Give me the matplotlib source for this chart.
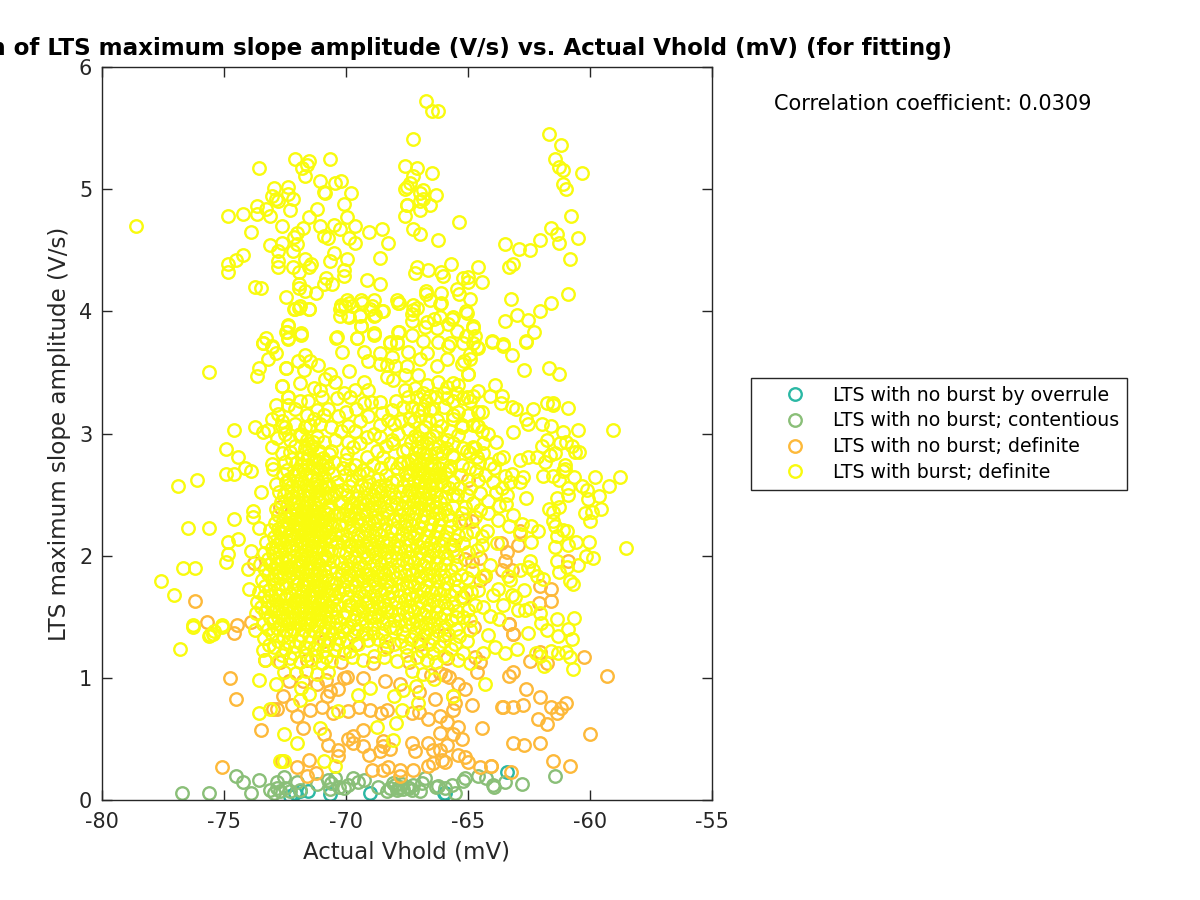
import matplotlib
matplotlib.use("Agg")
import matplotlib.pyplot as plt
import numpy as np

x_ticks = [-80, -75, -70, -65, -60, -55]
y_ticks = [0, 1, 2, 3, 4, 5, 6]

legend_labels = [
    "LTS with no burst by overrule",
    "LTS with no burst; contentious",
    "LTS with no burst; definite",
    "LTS with burst; definite",
]
colours = ["#2bb8a4", "#8abf78", "#fdb93a", "#f9fb0e"]

overrule = [
    (-72.3, 0.03), (-71.9, 0.07), (-71.55, 0.07), (-70.65, 0.05), (-69.0, 0.06),
    (-65.95, 0.055), (-63.42, 0.23), (-66.0, 0.06), (-72.1, 0.06),
]

contentious = [
    (-76.72, 0.06), (-75.61, 0.06), (-74.5, 0.2), (-74.23, 0.145), (-73.89, 0.06), (-73.55, 0.16),
    (-73.1, 0.08), (-72.97, 0.06), (-72.84, 0.1), (-72.7, 0.07), (-72.53, 0.19), (-72.84, 0.15),
    (-72.5, 0.1), (-72.3, 0.07), (-72.02, 0.15), (-71.9, 0.08), (-71.2, 0.13), (-70.65, 0.09),
    (-70.45, 0.18), (-70.3, 0.11), (-70.1, 0.1), (-69.9, 0.12), (-69.7, 0.18), (-69.26, 0.16),
    (-68.67, 0.11), (-68.2, 0.1), (-68.06, 0.14), (-67.92, 0.08), (-67.79, 0.11), (-67.5, 0.11),
    (-67.24, 0.12), (-66.97, 0.07), (-66.9, 0.14), (-66.77, 0.18), (-67.65, 0.09), (-67.4, 0.1),
    (-68.0, 0.12), (-67.85, 0.1), (-67.7, 0.13), (-66.22, 0.115), (-65.95, 0.095), (-65.67, 0.12),
    (-65.54, 0.06), (-65.2, 0.155), (-65.13, 0.18), (-64.6, 0.2), (-64.27, 0.18), (-63.99, 0.12),
    (-63.95, 0.11), (-63.49, 0.145), (-62.8, 0.13), (-61.44, 0.195), (-66.3, 0.11), (-68.3, 0.07),
    (-67.3, 0.08), (-69.5, 0.15), (-70.75, 0.16), (-70.6, 0.14),
]

no_burst = [
    (-75.09, 0.27), (-74.75, 1.0), (-74.5, 0.83), (-73.48, 0.57), (-72.84, 0.745), (-73.0, 0.745),
    (-72.57, 0.85), (-72.23, 0.78), (-72.02, 0.69), (-71.75, 0.59), (-71.51, 0.33), (-72.02, 0.27),
    (-71.58, 0.2), (-71.24, 0.22), (-72.63, 0.32), (-70.9, 0.54), (-70.72, 0.45), (-70.31, 0.41),
    (-70.31, 0.36), (-69.04, 0.37), (-69.29, 0.44), (-69.9, 0.5), (-69.7, 0.52), (-69.7, 0.47),
    (-69.29, 0.57), (-68.6, 0.4), (-68.47, 0.44), (-68.47, 0.48), (-68.2, 0.42), (-68.95, 0.245),
    (-68.47, 0.245), (-68.26, 0.27), (-67.79, 0.245), (-67.79, 0.2), (-67.24, 0.245), (-66.62, 0.28),
    (-66.42, 0.3), (-66.08, 0.33), (-65.94, 0.31), (-67.31, 0.47), (-67.17, 0.4), (-66.62, 0.47),
    (-66.42, 0.41), (-66.15, 0.41), (-65.87, 0.45), (-66.62, 0.66), (-66.15, 0.69), (-65.87, 0.64),
    (-65.4, 0.6), (-66.15, 0.55), (-65.6, 0.54), (-65.26, 0.5), (-65.4, 0.37), (-65.12, 0.35),
    (-64.98, 0.31), (-64.5, 0.27), (-64.07, 0.28), (-64.85, 0.78), (-65.4, 0.95), (-65.12, 0.91),
    (-64.71, 1.17), (-64.64, 1.05), (-64.5, 1.13), (-64.44, 0.59), (-63.62, 0.76), (-60.25, 1.17),
    (-59.29, 1.015), (-59.98, 0.54), (-60.82, 0.28), (-61.52, 0.32), (-62.03, 0.47), (-62.71, 0.45),
    (-63.15, 0.47), (-64.07, 0.28), (-63.24, 0.23), (-62.12, 0.66), (-61.78, 0.625), (-61.34, 0.71),
    (-61.19, 0.75), (-61.0, 0.79), (-61.6, 0.76), (-62.03, 0.84), (-62.76, 0.78), (-63.15, 0.76),
    (-63.57, 0.76), (-63.15, 1.05), (-63.32, 1.015), (-62.46, 1.135), (-62.03, 1.21), (-61.78, 1.12),
    (-62.63, 0.91), (-63.15, 1.36), (-63.32, 1.44), (-65.6, 0.74), (-65.54, 0.79), (-65.6, 0.85),
    (-67.31, 0.71), (-66.36, 0.83), (-65.77, 1.01), (-66.15, 1.04), (-65.95, 1.02), (-67.0, 0.72),
    (-68.3, 0.74), (-68.55, 0.71), (-69.0, 0.74), (-69.45, 0.76), (-69.9, 0.73), (-70.55, 0.71),
    (-70.99, 0.76), (-71.47, 0.74), (-70.79, 0.85), (-70.65, 0.89), (-70.31, 0.91), (-70.8, 0.98),
    (-70.1, 1.0), (-71.2, 0.95), (-71.75, 0.97), (-72.35, 0.97), (-69.97, 1.01), (-69.3, 1.0),
    (-68.4, 0.97), (-67.8, 0.95), (-67.0, 0.88), (-66.5, 1.02), (-65.85, 1.16), (-67.4, 1.13),
    (-68.9, 1.12), (-70.2, 1.13), (-71.6, 1.15), (-72.7, 1.13), (-73.3, 1.15), (-73.79, 1.94),
    (-72.7, 2.4), (-76.2, 1.63), (-75.71, 1.46), (-74.48, 1.43), (-74.57, 1.37), (-73.89, 1.46),
    (-63.65, 2.1), (-62.97, 2.09), (-63.39, 2.03), (-63.49, 1.96), (-63.62, 1.88), (-63.21, 1.88),
    (-64.51, 1.98), (-64.85, 1.96), (-65.12, 1.97), (-65.12, 2.29), (-64.85, 2.28), (-64.99, 2.62),
    (-60.89, 1.96), (-62.05, 1.75), (-61.6, 1.73), (-61.6, 1.63), (-62.08, 1.61), (-63.31, 1.44),
    (-63.14, 1.36), (-64.51, 1.8), (-64.31, 1.83), (-62.87, 2.2), (-65.6, 2.09), (-65.19, 1.66),
    (-66.98, 1.28), (-66.0, 1.35), (-64.77, 1.42), (-68.3, 1.25), (-69.6, 1.28), (-70.9, 1.3),
]

burst_top = [
    (-78.6, 4.7), (-73.55, 5.17), (-72.1, 5.245), (-71.5, 5.23), (-71.58, 5.2), (-71.79, 5.17),
    (-71.68, 5.11), (-70.65, 5.245), (-71.08, 5.07), (-70.46, 5.05), (-70.22, 5.07), (-70.9, 4.98),
    (-70.88, 4.97), (-69.81, 4.97), (-70.07, 4.88), (-72.36, 5.02), (-72.96, 5.01), (-73.05, 4.94),
    (-72.87, 4.92), (-72.77, 4.9), (-72.36, 4.96), (-72.18, 4.92), (-72.28, 4.83), (-73.65, 4.86),
    (-73.29, 4.84), (-73.65, 4.8), (-73.13, 4.78), (-74.83, 4.78), (-74.23, 4.8), (-72.62, 4.7),
    (-73.89, 4.65), (-71.17, 4.84), (-71.52, 4.77), (-71.76, 4.68), (-71.08, 4.7), (-70.48, 4.71),
    (-69.97, 4.77), (-69.63, 4.7), (-70.24, 4.67), (-69.04, 4.65), (-68.52, 4.67), (-68.26, 4.56),
    (-69.88, 4.6), (-69.63, 4.56), (-70.9, 4.62), (-70.72, 4.6), (-72.02, 4.64), (-72.12, 4.61),
    (-72.02, 4.55), (-72.62, 4.56), (-73.13, 4.54), (-72.77, 4.49), (-72.18, 4.49), (-71.68, 4.43),
    (-71.42, 4.39), (-71.5, 4.36), (-70.48, 4.48), (-70.65, 4.41), (-69.97, 4.43), (-70.07, 4.34),
    (-70.07, 4.29), (-68.6, 4.44), (-74.23, 4.46), (-74.51, 4.42), (-74.85, 4.39), (-74.83, 4.32),
    (-72.77, 4.41), (-72.77, 4.36), (-72.18, 4.36), (-71.94, 4.32), (-73.73, 4.2), (-73.47, 4.19),
    (-71.92, 4.22), (-71.92, 4.19), (-71.68, 4.17), (-71.24, 4.15), (-70.83, 4.27), (-70.9, 4.22),
    (-70.56, 4.22), (-69.12, 4.26), (-68.6, 4.22), (-72.44, 4.12), (-72.1, 4.02), (-71.92, 4.03),
    (-71.5, 4.02), (-70.22, 4.05), (-69.97, 4.09), (-69.88, 4.07), (-70.24, 4.02), (-70.04, 4.04),
    (-69.74, 4.04), (-69.37, 4.09), (-68.85, 4.09), (-68.95, 4.04), (-68.51, 4.0), (-68.85, 3.96),
    (-67.92, 4.09), (-67.83, 4.07), (-70.24, 3.96), (-69.88, 3.95), (-69.42, 3.96), (-69.37, 3.88),
    (-68.85, 3.81), (-72.36, 3.88), (-72.44, 3.83), (-72.36, 3.78), (-71.84, 3.81), (-73.29, 3.78),
    (-73.39, 3.74), (-73.05, 3.72), (-70.41, 3.78), (-69.55, 3.78), (-68.18, 3.74), (-67.92, 3.74),
    (-67.83, 3.83), (-67.58, 5.19), (-67.51, 4.87), (-67.58, 4.78), (-67.24, 5.41), (-67.51, 5.02),
    (-67.58, 5.0), (-67.24, 4.67), (-66.74, 5.72), (-66.46, 5.64), (-66.22, 5.64), (-67.08, 5.17),
    (-67.24, 5.11), (-66.46, 5.13), (-67.38, 5.05), (-66.83, 4.99), (-66.97, 4.97), (-66.3, 4.95),
    (-66.83, 4.92), (-66.98, 4.9), (-66.56, 4.87), (-67.49, 4.87), (-66.97, 4.83), (-65.36, 4.73),
    (-66.97, 4.63), (-66.22, 4.58), (-65.7, 4.39), (-67.08, 4.36), (-67.16, 4.31), (-66.64, 4.34),
    (-66.12, 4.32), (-66.04, 4.29), (-65.19, 4.27), (-64.99, 4.28), (-64.99, 4.24), (-64.59, 4.36),
    (-64.42, 4.24), (-65.44, 4.18), (-65.36, 4.14), (-64.92, 4.1), (-66.72, 4.17), (-66.72, 4.14),
    (-66.12, 4.15), (-66.56, 4.09), (-66.12, 4.07), (-67.24, 4.05), (-67.11, 4.03), (-65.1, 4.0),
    (-67.31, 3.98), (-67.31, 3.92), (-63.49, 4.55), (-62.9, 4.51), (-62.46, 4.5), (-62.03, 4.58),
    (-61.6, 4.68), (-61.36, 4.63), (-61.26, 4.56), (-60.76, 4.78), (-60.5, 4.6), (-60.84, 4.43),
    (-60.92, 4.14), (-61.6, 4.07), (-62.03, 4.0), (-62.54, 3.93), (-62.98, 3.97), (-63.49, 3.92),
    (-63.24, 4.1), (-63.15, 4.39), (-63.32, 4.36), (-62.28, 3.83), (-62.63, 3.76), (-64.0, 3.76),
    (-63.57, 3.73), (-61.68, 5.45), (-61.18, 5.36), (-61.44, 5.25), (-61.26, 5.18), (-61.1, 5.16),
    (-60.32, 5.13), (-61.1, 5.04), (-61.0, 5.0), (-65.67, 3.94), (-66.4, 3.94), (-66.76, 3.87),
    (-66.15, 3.95), (-65.47, 3.84), (-65.1, 3.8), (-64.78, 3.88), (-64.7, 3.8), (-64.8, 3.74),
]

burst_sides = [
    (-75.6, 3.505), (-74.57, 3.03), (-74.91, 2.875), (-74.41, 2.81), (-74.91, 2.67), (-74.57, 2.67),
    (-74.14, 2.72), (-73.89, 2.69), (-76.12, 2.62), (-76.88, 2.57), (-73.47, 2.52), (-73.81, 2.365),
    (-73.81, 2.32), (-74.57, 2.3), (-76.46, 2.23), (-75.6, 2.23), (-73.56, 2.23), (-74.41, 2.14),
    (-74.83, 2.11), (-74.83, 2.01), (-74.91, 1.95), (-73.89, 2.04), (-76.7, 1.9), (-76.2, 1.9),
    (-77.57, 1.79), (-77.05, 1.68), (-73.99, 1.73), (-74.0, 1.89), (-76.28, 1.43), (-75.09, 1.43),
    (-75.43, 1.38), (-75.57, 1.35), (-73.73, 1.39), (-73.63, 3.47), (-73.56, 3.54), (-73.21, 3.61),
    (-72.87, 3.66), (-73.04, 3.71), (-73.39, 3.74), (-72.46, 3.54), (-72.61, 3.39), (-72.87, 3.23),
    (-72.36, 3.3), (-72.36, 3.23), (-73.04, 3.115), (-72.77, 3.16), (-73.73, 3.05), (-73.39, 3.01),
    (-73.18, 3.03), (-72.52, 3.05), (-72.61, 3.1), (-72.84, 2.96), (-73.04, 2.89), (-72.63, 2.84),
    (-73.04, 2.75), (-72.98, 2.71), (-71.86, 2.99), (-72.87, 2.59), (-72.87, 2.38), (-76.8, 1.235),
    (-76.28, 1.42), (-75.61, 1.34), (-75.44, 1.36), (-75.07, 1.42), (-73.55, 0.98), (-72.87, 0.95),
    (-73.55, 0.71), (-73.11, 0.745), (-72.53, 0.54), (-72.02, 0.47), (-72.7, 0.32), (-72.55, 0.32),
    (-71.06, 0.59), (-70.9, 0.32), (-70.45, 0.28), (-70.31, 0.73), (-68.74, 0.6), (-67.96, 0.63),
    (-68.09, 0.49), (-67.72, 0.74), (-67.03, 0.79), (-65.4, 1.15), (-65.6, 0.85), (-59.05, 3.03),
    (-58.53, 2.06), (-58.77, 2.64), (-59.22, 2.57), (-59.8, 2.64), (-60.48, 3.03), (-61.1, 3.01),
    (-60.92, 3.21), (-61.51, 3.25), (-61.78, 3.25), (-61.53, 3.23), (-61.68, 3.54), (-61.26, 3.49),
    (-62.71, 3.52), (-63.21, 3.64), (-63.55, 3.72), (-62.63, 3.75), (-64.0, 3.75), (-64.58, 3.7),
    (-65.8, 3.72), (-64.92, 3.65), (-65.17, 3.59), (-64.99, 3.49), (-63.9, 3.4), (-64.58, 3.35),
    (-64.1, 3.31), (-63.62, 3.31), (-63.65, 3.25), (-63.21, 3.22), (-63.03, 3.2), (-62.35, 3.2),
    (-64.42, 3.18), (-62.64, 3.115), (-62.53, 3.08), (-61.96, 3.08), (-61.6, 3.06), (-63.14, 3.01),
    (-64.58, 3.06), (-64.42, 3.02), (-64.16, 3.0), (-63.86, 2.93), (-61.78, 2.95), (-61.98, 2.9),
    (-61.23, 2.92), (-60.99, 2.93), (-60.75, 2.9), (-60.62, 2.85), (-60.44, 2.85), (-61.44, 2.84),
    (-61.64, 2.82), (-61.85, 2.77), (-62.19, 2.81), (-62.53, 2.81), (-62.87, 2.78), (-63.55, 2.81),
    (-63.72, 2.79), (-63.94, 2.72), (-61.03, 2.74), (-61.03, 2.71), (-61.1, 2.69), (-61.94, 2.65),
    (-61.51, 2.65), (-61.26, 2.62), (-60.64, 2.64), (-60.89, 2.55), (-60.89, 2.5), (-60.34, 2.57),
    (-60.14, 2.54), (-60.07, 2.46), (-59.62, 2.49), (-59.54, 2.38), (-60.21, 2.35), (-59.9, 2.36),
    (-59.98, 2.28), (-62.63, 2.47), (-63.39, 2.5), (-62.73, 2.64), (-62.87, 2.6), (-63.21, 2.67),
    (-63.28, 2.6), (-63.49, 2.65), (-64.31, 2.66), (-64.58, 2.62), (-64.69, 2.69), (-61.37, 2.47),
    (-61.26, 2.4), (-61.68, 2.38), (-61.51, 2.36), (-61.51, 2.28), (-61.44, 2.24), (-61.1, 2.21),
    (-60.96, 2.2), (-61.37, 2.16), (-62.12, 2.2), (-62.43, 2.24), (-62.43, 2.11), (-62.8, 2.26),
    (-62.87, 2.18), (-63.14, 2.33), (-63.31, 2.24), (-63.76, 2.29), (-63.72, 2.41), (-64.24, 2.2),
    (-64.44, 2.16), (-64.44, 2.09), (-64.17, 2.45), (-64.51, 2.51), (-60.04, 2.11), (-60.58, 2.11),
    (-60.89, 2.09), (-61.44, 2.07), (-60.17, 2.0), (-59.89, 1.98), (-60.48, 1.92), (-61.37, 1.96),
    (-61.26, 1.87), (-60.96, 1.91), (-60.8, 1.79), (-60.71, 1.77), (-62.46, 1.96), (-62.53, 1.91),
    (-62.33, 1.88), (-62.19, 1.83), (-61.92, 1.81), (-62.87, 1.88), (-62.7, 1.72), (-63.08, 1.66),
    (-64.31, 1.84), (-64.37, 1.83), (-63.35, 1.83), (-63.28, 1.8), (-63.76, 1.73), (-62.05, 1.53),
    (-62.46, 1.57), (-62.67, 1.555), (-62.94, 1.555), (-61.34, 1.48), (-60.64, 1.49), (-60.92, 1.4),
    (-61.78, 1.39), (-61.3, 1.34), (-60.75, 1.32), (-62.53, 1.37), (-64.17, 1.35), (-64.92, 1.39),
    (-64.1, 1.51), (-64.37, 1.58), (-64.99, 1.555), (-64.92, 1.47), (-64.37, 2.92), (-64.37, 2.84),
    (-64.72, 2.88), (-64.92, 2.84), (-65.19, 2.88), (-65.67, 2.82), (-65.4, 2.99), (-65.26, 3.07),
    (-65.6, 3.12), (-65.88, 2.95), (-65.4, 3.4), (-65.19, 3.29), (-64.92, 3.27), (-65.6, 3.27),
    (-65.88, 3.38), (-64.78, 2.43), (-64.51, 2.37), (-64.17, 2.35), (-65.26, 2.35), (-65.6, 2.4),
    (-65.74, 2.29), (-62.2, 1.2), (-62.05, 1.18), (-61.3, 1.2), (-61.6, 1.22), (-60.99, 1.21),
    (-60.8, 1.17), (-63.9, 1.25), (-63.5, 1.2), (-63.0, 1.24), (-64.4, 1.2), (-64.9, 1.12),
    (-64.3, 0.95), (-62.0, 1.45), (-63.55, 1.6), (-63.2, 1.68), (-61.9, 1.1), (-60.7, 1.07),
]

burst_upper_mid = [
    (-71.5, 4.02), (-72.15, 4.02), (-71.88, 4.04), (-70.2, 4.04), (-69.9, 3.96), (-69.42, 3.97),
    (-69.35, 4.07), (-69.0, 4.02), (-68.81, 3.97), (-68.47, 4.0), (-67.85, 4.07), (-67.24, 4.01),
    (-66.14, 4.06), (-65.05, 3.99), (-65.6, 3.95), (-65.8, 3.9), (-72.36, 3.89), (-72.4, 3.83),
    (-72.36, 3.77), (-71.84, 3.82), (-70.38, 3.79), (-69.56, 3.78), (-68.85, 3.82), (-69.38, 3.88),
    (-70.15, 3.67), (-69.28, 3.67), (-69.11, 3.59), (-68.6, 3.66), (-67.85, 3.83), (-68.19, 3.75),
    (-67.92, 3.75), (-67.3, 3.81), (-66.69, 3.91), (-66.28, 3.86), (-66.83, 3.76), (-66.21, 3.75),
    (-65.73, 3.74), (-64.78, 3.86), (-64.64, 3.71), (-65.19, 3.74), (-72.45, 3.54), (-71.68, 3.64),
    (-71.95, 3.59), (-71.47, 3.59), (-71.13, 3.56), (-71.74, 3.52), (-70.65, 3.49), (-70.86, 3.45),
    (-70.45, 3.42), (-69.87, 3.51), (-69.28, 3.42), (-69.08, 3.36), (-69.63, 3.36), (-68.98, 3.26),
    (-68.6, 3.57), (-68.12, 3.63), (-68.33, 3.56), (-67.99, 3.55), (-67.44, 3.67), (-67.51, 3.55),
    (-67.58, 3.48), (-68.33, 3.46), (-68.06, 3.44), (-66.96, 3.61), (-66.69, 3.66), (-66.28, 3.55),
    (-65.87, 3.61), (-65.25, 3.57), (-64.91, 3.61), (-64.98, 3.49), (-72.63, 3.39), (-72.36, 3.3),
    (-71.88, 3.41), (-71.33, 3.37), (-71.06, 3.36), (-71.54, 3.27), (-71.88, 3.27), (-70.99, 3.3),
    (-70.38, 3.29), (-70.1, 3.33), (-69.83, 3.3), (-71.61, 3.15), (-71.2, 3.19), (-70.92, 3.15),
    (-70.31, 3.14), (-71.06, 3.08), (-71.47, 3.07), (-69.42, 3.1), (-69.11, 3.14), (-69.9, 3.06),
    (-68.6, 3.26), (-68.53, 3.17), (-68.12, 3.19), (-67.65, 3.22), (-68.6, 3.07), (-68.26, 3.11),
    (-72.63, 3.06), (-72.5, 3.0), (-71.88, 3.0), (-72.29, 2.95), (-67.85, 3.0), (-67.44, 3.04),
    (-66.96, 3.14), (-66.55, 3.19), (-66.28, 3.11), (-65.6, 3.15), (-65.25, 3.05), (-64.78, 3.07),
    (-64.64, 3.06), (-64.57, 3.18), (-65.05, 3.3), (-64.78, 3.31), (-65.46, 3.33), (-67.17, 3.37),
    (-66.55, 3.31), (-65.87, 3.29), (-67.03, 3.48), (-66.21, 3.42), (-65.6, 3.41), (-69.42, 2.92),
    (-69.9, 2.93), (-69.15, 2.97), (-68.6, 2.97), (-68.06, 2.92), (-68.74, 2.86), (-68.47, 2.81),
    (-69.15, 2.81), (-69.97, 2.84), (-69.7, 2.89), (-70.45, 2.95), (-65.6, 2.81), (-65.05, 2.86),
    (-64.78, 2.89), (-64.64, 2.81), (-65.6, 2.92), (-66.28, 2.84), (-67.1, 2.89), (-67.65, 2.86),
    (-67.78, 2.76), (-65.73, 2.73),
]

burst_left_core = [
    (-71.9, 2.98), (-71.6, 2.95), (-71.2, 2.97), (-70.9, 2.93), (-71.4, 2.9), (-71.7, 2.88), (-71.1, 2.86),
    (-72.1, 2.9), (-72.3, 2.85), (-71.5, 2.82), (-71.8, 2.8), (-71.25, 2.78), (-70.95, 2.8), (-70.7, 2.83),
    (-72.05, 2.76), (-71.55, 2.74), (-71.35, 2.72), (-71.75, 2.7), (-71.05, 2.7), (-70.75, 2.72), (-72.4, 2.7),
    (-72.15, 2.66), (-71.85, 2.63), (-71.45, 2.65), (-71.2, 2.62), (-70.9, 2.64), (-70.55, 2.67), (-72.45, 2.6),
    (-72.2, 2.57), (-71.65, 2.58), (-71.35, 2.56), (-71.0, 2.55), (-70.7, 2.57), (-70.35, 2.6), (-72.55, 2.5),
    (-72.0, 2.52), (-71.75, 2.5), (-71.5, 2.49), (-71.2, 2.5), (-70.85, 2.47), (-70.5, 2.5), (-70.15, 2.54),
    (-72.65, 2.44), (-72.3, 2.46), (-71.95, 2.44), (-71.6, 2.43), (-71.3, 2.42), (-71.05, 2.44), (-70.7, 2.4),
    (-70.3, 2.43), (-72.5, 2.36), (-72.15, 2.38), (-71.8, 2.37), (-71.55, 2.36), (-71.35, 2.37), (-71.1, 2.35),
    (-70.85, 2.36), (-70.5, 2.33), (-72.6, 2.28), (-72.3, 2.31), (-72.0, 2.3), (-71.75, 2.29), (-71.5, 2.31),
    (-71.3, 2.29), (-71.15, 2.3), (-70.95, 2.28), (-70.65, 2.27), (-70.3, 2.25), (-72.8, 2.22), (-72.45, 2.23),
    (-72.1, 2.24), (-71.85, 2.23), (-71.6, 2.25), (-71.45, 2.23), (-71.25, 2.24), (-71.05, 2.22), (-70.8, 2.2),
    (-70.45, 2.18), (-72.95, 2.15), (-72.65, 2.14), (-72.25, 2.17), (-71.95, 2.16), (-71.7, 2.18), (-71.5, 2.17),
    (-71.3, 2.16), (-71.1, 2.15), (-70.9, 2.13), (-70.6, 2.12), (-73.05, 2.06), (-72.7, 2.05), (-72.35, 2.08),
    (-72.05, 2.09), (-71.8, 2.1), (-71.55, 2.09), (-71.35, 2.08), (-71.15, 2.07), (-70.75, 2.05), (-70.3, 2.05),
    (-73.2, 1.97), (-72.85, 1.98), (-72.5, 1.99), (-72.15, 2.0), (-71.85, 2.01), (-71.6, 2.0), (-71.4, 1.99),
    (-71.0, 1.98), (-70.55, 1.96), (-73.3, 1.88), (-72.95, 1.9), (-72.6, 1.9), (-72.25, 1.91), (-71.95, 1.92),
    (-71.65, 1.9), (-71.3, 1.9), (-70.9, 1.88), (-70.4, 1.87), (-73.45, 1.8), (-73.05, 1.81), (-72.7, 1.82),
    (-72.35, 1.83), (-72.0, 1.82), (-71.7, 1.81), (-71.35, 1.8), (-71.0, 1.79), (-70.6, 1.78), (-73.55, 1.7),
    (-73.15, 1.72), (-72.8, 1.73), (-72.45, 1.74), (-72.1, 1.72), (-71.75, 1.71), (-71.4, 1.72), (-71.05, 1.7),
    (-70.7, 1.68), (-70.3, 1.7), (-73.65, 1.62), (-73.25, 1.63), (-72.9, 1.64), (-72.5, 1.65), (-72.15, 1.62),
    (-71.8, 1.63), (-71.45, 1.62), (-71.1, 1.61), (-70.75, 1.59), (-70.35, 1.6), (-73.7, 1.53), (-73.3, 1.54),
    (-72.95, 1.55), (-72.6, 1.53), (-72.2, 1.54), (-71.85, 1.55), (-71.5, 1.53), (-71.15, 1.52), (-70.8, 1.51),
    (-70.4, 1.5), (-73.4, 1.44), (-73.0, 1.46), (-72.65, 1.44), (-72.3, 1.45), (-71.95, 1.46), (-71.6, 1.44),
    (-71.2, 1.43), (-70.85, 1.42), (-70.45, 1.41), (-73.35, 1.33), (-73.05, 1.36), (-72.6, 1.34), (-72.25, 1.36),
    (-71.85, 1.35), (-71.5, 1.34), (-71.1, 1.33), (-70.7, 1.32), (-70.3, 1.33), (-73.4, 1.23), (-72.95, 1.25),
    (-72.5, 1.24), (-72.1, 1.26), (-71.7, 1.25), (-71.3, 1.24), (-70.95, 1.22), (-70.5, 1.23), (-73.3, 1.15),
    (-72.8, 1.14), (-72.3, 1.16), (-71.9, 1.13), (-71.45, 1.15), (-71.0, 1.12), (-70.6, 1.14), (-72.55, 1.05),
    (-72.05, 1.04), (-71.65, 1.06), (-71.2, 1.03), (-70.75, 1.05), (-71.85, 0.92), (-71.5, 0.87), (-71.9, 0.82),
]

burst_left_fill = [
    (-71.37, 2.93), (-71.12, 2.77), (-71.63, 2.67), (-71.28, 2.59), (-70.97, 2.74), (-71.52, 2.87), (-71.83, 2.74),
    (-72.02, 2.61), (-70.82, 2.59), (-71.44, 2.53), (-71.13, 2.46), (-71.72, 2.41), (-70.63, 2.48), (-72.18, 2.49),
    (-70.92, 2.31), (-71.23, 2.33), (-71.66, 2.33), (-71.41, 2.27), (-71.02, 2.19), (-71.73, 2.21), (-71.56, 2.13),
    (-71.36, 2.11), (-70.86, 2.25), (-71.97, 2.27), (-72.23, 2.33), (-71.89, 2.13), (-71.18, 2.03), (-70.69, 2.16),
    (-71.66, 2.04), (-72.12, 2.14), (-72.41, 2.11), (-71.47, 1.95), (-71.12, 1.93), (-71.83, 1.96), (-70.78, 1.97),
    (-72.33, 1.96), (-72.72, 2.11), (-72.57, 2.24), (-72.87, 2.09), (-71.54, 1.84), (-71.93, 1.87), (-71.17, 1.84),
    (-70.82, 1.83), (-72.18, 1.86), (-72.53, 1.85), (-72.82, 1.94), (-73.12, 1.93), (-71.63, 1.75), (-71.22, 1.75),
    (-70.88, 1.74), (-70.53, 1.72), (-72.02, 1.77), (-72.28, 1.69), (-72.63, 1.77), (-72.97, 1.77), (-73.32, 1.75),
    (-71.52, 1.67), (-71.27, 1.66), (-70.93, 1.65), (-70.58, 1.63), (-71.88, 1.67), (-72.33, 1.59), (-72.68, 1.6),
    (-73.02, 1.59), (-73.38, 1.67), (-71.62, 1.58), (-71.33, 1.57), (-71.03, 1.56), (-70.63, 1.55), (-71.97, 1.58),
    (-72.42, 1.49), (-72.77, 1.5), (-73.12, 1.49), (-73.48, 1.58), (-71.68, 1.49), (-71.38, 1.48), (-71.03, 1.47),
    (-70.68, 1.46), (-70.23, 1.45), (-72.08, 1.49), (-72.47, 1.39), (-72.83, 1.41), (-73.18, 1.4), (-71.73, 1.39),
    (-71.33, 1.38), (-70.98, 1.37), (-70.58, 1.36), (-72.13, 1.4), (-72.37, 1.29), (-72.77, 1.3), (-71.93, 1.3),
    (-71.53, 1.29), (-71.13, 1.28), (-70.78, 1.27), (-70.38, 1.28), (-73.17, 1.27), (-72.63, 1.19), (-72.17, 1.2),
    (-71.63, 1.19), (-71.23, 1.18), (-70.83, 1.17), (-72.23, 2.79), (-72.48, 2.77), (-71.98, 2.69), (-71.58, 2.79),
    (-71.18, 2.71), (-70.83, 2.77), (-70.62, 2.86), (-70.48, 2.77), (-72.33, 2.63), (-72.58, 2.67), (-72.73, 2.52),
    (-72.42, 2.53), (-72.08, 2.43), (-71.87, 2.56), (-71.57, 2.53), (-71.08, 2.58), (-70.77, 2.51), (-70.4, 2.53),
    (-70.18, 2.44), (-72.77, 2.33), (-72.43, 2.41), (-72.03, 2.37), (-71.47, 2.41), (-71.17, 2.39), (-70.73, 2.34),
    (-70.28, 2.35), (-72.93, 2.27), (-72.33, 2.26), (-71.9, 2.32), (-71.38, 2.33), (-71.03, 2.32), (-70.57, 2.24),
    (-70.18, 2.17), (-73.13, 2.21), (-72.72, 2.19), (-72.35, 2.18), (-72.02, 2.21), (-71.62, 2.19), (-71.2, 2.2),
    (-70.93, 2.18), (-70.38, 2.11), (-73.27, 2.11), (-72.52, 2.07), (-72.18, 2.06), (-71.72, 2.07), (-71.43, 2.05),
    (-71.0, 2.07), (-70.6, 2.04), (-73.38, 2.02), (-72.98, 2.02), (-72.62, 1.96), (-72.03, 1.95), (-71.73, 1.98),
    (-71.27, 1.98), (-70.87, 2.0), (-70.22, 1.95), (-73.52, 1.93), (-72.77, 1.87), (-72.42, 1.91), (-71.82, 1.87),
    (-71.45, 1.88), (-71.08, 1.87), (-70.67, 1.9), (-70.18, 1.84), (-73.2, 1.85), (-72.88, 1.83), (-72.12, 1.79),
    (-71.78, 1.76), (-71.5, 1.77), (-71.12, 1.76), (-70.73, 1.8), (-70.42, 1.78), (-73.08, 1.68), (-72.72, 1.68),
    (-72.42, 1.67), (-72.07, 1.64), (-71.68, 1.66), (-71.38, 1.67), (-71.0, 1.63), (-70.42, 1.66), (-72.87, 1.56),
    (-72.48, 1.57), (-72.12, 1.57), (-71.75, 1.58), (-71.45, 1.57), (-71.2, 1.58), (-70.85, 1.55), (-70.5, 1.56),
    (-73.22, 1.57), (-72.58, 1.47), (-72.22, 1.48), (-71.87, 1.44), (-71.48, 1.45), (-71.12, 1.47), (-70.75, 1.38),
]

burst_mid = [
    (-70.0, 2.78), (-69.65, 2.74), (-69.3, 2.7), (-68.9, 2.74), (-68.55, 2.72), (-68.2, 2.76),
    (-70.05, 2.66), (-69.75, 2.62), (-69.4, 2.58), (-69.05, 2.6), (-68.7, 2.63), (-68.35, 2.66), (-68.1, 2.6),
    (-69.95, 2.5), (-69.6, 2.47), (-69.25, 2.48), (-68.9, 2.5), (-68.55, 2.52), (-68.25, 2.48), (-69.95, 2.38),
    (-69.65, 2.35), (-69.3, 2.37), (-68.95, 2.38), (-68.6, 2.4), (-68.3, 2.37), (-70.0, 2.27), (-69.7, 2.24),
    (-69.4, 2.25), (-69.05, 2.27), (-68.7, 2.28), (-68.35, 2.26), (-69.95, 2.14), (-69.6, 2.12), (-69.25, 2.15),
    (-68.9, 2.16), (-68.55, 2.17), (-68.25, 2.14), (-70.0, 2.02), (-69.65, 2.0), (-69.3, 2.03), (-68.95, 2.04),
    (-68.6, 2.05), (-68.3, 2.03), (-69.95, 1.9), (-69.6, 1.88), (-69.25, 1.91), (-68.9, 1.92), (-68.55, 1.93),
    (-68.25, 1.9), (-70.0, 1.79), (-69.65, 1.76), (-69.3, 1.79), (-68.95, 1.8), (-68.6, 1.81), (-68.3, 1.79),
    (-69.95, 1.66), (-69.6, 1.64), (-69.25, 1.67), (-68.9, 1.68), (-68.55, 1.69), (-68.25, 1.66), (-70.0, 1.54),
    (-69.65, 1.52), (-69.3, 1.55), (-68.95, 1.56), (-68.6, 1.57), (-68.3, 1.54), (-69.9, 1.42), (-69.55, 1.4),
    (-69.2, 1.43), (-68.85, 1.44), (-68.5, 1.45), (-68.2, 1.42), (-69.95, 1.3), (-69.5, 1.28), (-69.1, 1.31),
    (-68.7, 1.32), (-68.35, 1.3), (-69.75, 1.17), (-69.3, 1.15), (-68.85, 1.18), (-68.45, 1.17), (-68.05, 0.85),
    (-69.0, 0.92), (-69.5, 0.86), (-69.82, 2.71), (-69.47, 2.67), (-69.13, 2.68), (-68.78, 2.55), (-68.42, 2.58),
    (-69.78, 2.43), (-69.42, 2.43), (-69.08, 2.45), (-68.73, 2.46), (-68.43, 2.44), (-69.83, 2.31), (-69.48, 2.31),
    (-69.17, 2.33), (-68.82, 2.32), (-68.48, 2.32), (-69.82, 2.2), (-69.5, 2.18), (-69.13, 2.21), (-68.78, 2.22),
    (-68.43, 2.21), (-69.78, 2.08), (-69.42, 2.07), (-69.07, 2.1), (-68.72, 2.11), (-68.38, 2.09), (-69.82, 1.96),
    (-69.47, 1.95), (-69.12, 1.98), (-68.77, 1.99), (-68.42, 1.98), (-69.78, 1.84), (-69.43, 1.83), (-69.07, 1.85),
    (-68.73, 1.87), (-68.4, 1.85), (-69.82, 1.72), (-69.47, 1.71), (-69.12, 1.73), (-68.77, 1.74), (-68.42, 1.73),
    (-69.78, 1.6), (-69.43, 1.59), (-69.1, 1.62), (-68.73, 1.62), (-68.4, 1.6), (-69.72, 1.47), (-69.37, 1.48),
    (-69.02, 1.5), (-68.68, 1.51), (-68.33, 1.48), (-69.73, 1.35), (-69.3, 1.36), (-68.9, 1.37), (-68.52, 1.37),
    (-69.88, 2.57), (-69.55, 2.53), (-69.18, 2.55), (-68.64, 2.57), (-68.17, 2.54), (-69.88, 2.33), (-69.56, 2.4),
    (-69.22, 2.42), (-68.87, 2.43), (-68.17, 2.42), (-69.88, 2.08), (-69.53, 2.28), (-69.2, 2.08), (-68.85, 2.27),
    (-68.5, 2.11), (-68.17, 2.2), (-69.88, 1.84), (-69.53, 2.05), (-69.2, 1.85), (-68.85, 2.06), (-68.5, 1.87),
    (-68.17, 1.97), (-69.88, 1.6), (-69.53, 1.79), (-69.2, 1.61), (-68.85, 1.8), (-68.5, 1.63), (-68.17, 1.75),
    (-69.85, 1.22), (-69.53, 1.56), (-69.17, 1.37), (-68.85, 1.5), (-68.45, 1.24), (-68.15, 1.55), (-70.12, 2.72),
    (-70.13, 2.33), (-70.12, 2.11), (-70.13, 1.9), (-70.12, 1.73), (-70.1, 1.5), (-70.13, 1.38), (-70.1, 1.2),
]

burst_right_core = [
    (-67.6, 3.36), (-67.1, 3.3), (-66.7, 3.4), (-66.3, 3.3), (-66.0, 3.22), (-67.3, 3.22), (-66.85, 3.2),
    (-66.6, 3.1), (-67.2, 3.1), (-67.75, 3.1), (-66.1, 3.06), (-66.9, 3.03), (-66.45, 2.98), (-67.0, 2.96),
    (-66.7, 2.92), (-66.2, 2.9), (-67.35, 2.93), (-65.9, 2.88), (-66.85, 2.84), (-66.55, 2.82), (-67.15, 2.8),
    (-67.45, 2.76), (-66.95, 2.76), (-66.7, 2.75), (-66.4, 2.74), (-66.05, 2.76), (-65.8, 2.7), (-67.6, 2.68),
    (-67.25, 2.7), (-67.0, 2.68), (-66.8, 2.68), (-66.6, 2.67), (-66.35, 2.66), (-66.15, 2.65), (-67.9, 2.62),
    (-67.5, 2.62), (-67.2, 2.61), (-66.95, 2.6), (-66.75, 2.6), (-66.55, 2.59), (-66.3, 2.58), (-66.0, 2.58),
    (-65.6, 2.6), (-65.3, 2.66), (-67.8, 2.53), (-67.4, 2.54), (-67.1, 2.53), (-66.85, 2.52), (-66.6, 2.51),
    (-66.3, 2.5), (-65.95, 2.48), (-65.45, 2.5), (-67.95, 2.42), (-67.6, 2.44), (-67.25, 2.45), (-66.95, 2.43),
    (-66.65, 2.42), (-66.3, 2.4), (-65.95, 2.38), (-67.8, 2.33), (-67.45, 2.34), (-67.15, 2.35), (-66.8, 2.33),
    (-66.45, 2.31), (-66.1, 2.3), (-65.35, 2.28), (-67.95, 2.23), (-67.6, 2.24), (-67.3, 2.25), (-66.95, 2.23),
    (-66.6, 2.21), (-66.25, 2.2), (-65.85, 2.19), (-65.4, 2.17), (-67.85, 2.13), (-67.5, 2.14), (-67.2, 2.15),
    (-66.85, 2.12), (-66.5, 2.1), (-66.15, 2.09), (-65.75, 2.08), (-65.2, 2.1), (-67.95, 2.02), (-67.6, 2.04),
    (-67.3, 2.05), (-66.95, 2.02), (-66.6, 2.0), (-66.25, 1.99), (-65.85, 1.98), (-65.45, 2.0), (-67.85, 1.92),
    (-67.5, 1.94), (-67.2, 1.95), (-66.85, 1.92), (-66.5, 1.9), (-66.15, 1.89), (-65.7, 1.88), (-65.3, 1.84),
    (-67.95, 1.82), (-67.6, 1.84), (-67.3, 1.85), (-66.95, 1.82), (-66.6, 1.8), (-66.25, 1.79), (-65.85, 1.78),
    (-65.4, 1.75), (-67.85, 1.72), (-67.5, 1.74), (-67.2, 1.75), (-66.85, 1.72), (-66.5, 1.7), (-66.15, 1.69),
    (-65.75, 1.68), (-65.3, 1.66), (-67.95, 1.62), (-67.6, 1.64), (-67.3, 1.65), (-66.95, 1.62), (-66.6, 1.6),
    (-66.25, 1.59), (-65.85, 1.57), (-65.45, 1.55), (-67.85, 1.52), (-67.5, 1.54), (-67.2, 1.55), (-66.85, 1.52),
    (-66.5, 1.5), (-66.15, 1.49), (-65.7, 1.47), (-67.95, 1.41), (-67.6, 1.43), (-67.3, 1.44), (-66.95, 1.42),
    (-66.6, 1.4), (-66.25, 1.38), (-65.8, 1.36), (-65.35, 1.34), (-67.75, 1.3), (-67.35, 1.32), (-67.0, 1.3),
    (-66.6, 1.28), (-66.2, 1.26), (-65.7, 1.24), (-67.5, 1.19), (-67.1, 1.17), (-66.7, 1.15), (-66.3, 1.13),
    (-67.3, 1.06), (-66.85, 1.03), (-66.4, 0.99), (-67.15, 0.93), (-67.65, 0.9),
]

burst_right_fill = [
    (-67.38, 3.13), (-66.72, 3.27), (-66.43, 3.21), (-67.03, 3.19), (-66.32, 3.02), (-66.78, 3.05), (-67.18, 2.98),
    (-66.58, 2.96), (-66.92, 2.93), (-66.38, 2.88), (-67.48, 2.87), (-67.02, 2.86), (-66.72, 2.83), (-66.05, 2.84),
    (-67.32, 2.78), (-66.82, 2.79), (-66.53, 2.76), (-66.2, 2.72), (-67.68, 2.77), (-67.12, 2.73), (-66.88, 2.71),
    (-66.47, 2.71), (-65.93, 2.68), (-67.37, 2.67), (-66.68, 2.64), (-66.42, 2.62), (-66.12, 2.6), (-67.68, 2.57),
    (-67.03, 2.64), (-66.82, 2.56), (-66.47, 2.55), (-65.78, 2.55), (-67.52, 2.5), (-67.22, 2.49), (-66.97, 2.47),
    (-66.72, 2.47), (-66.42, 2.45), (-66.13, 2.44), (-65.62, 2.5), (-67.72, 2.39), (-67.38, 2.39), (-67.03, 2.39),
    (-66.78, 2.38), (-66.47, 2.37), (-66.18, 2.35), (-65.8, 2.33), (-67.87, 2.28), (-67.53, 2.28), (-67.22, 2.3),
    (-66.88, 2.28), (-66.53, 2.26), (-66.18, 2.25), (-65.68, 2.24), (-67.72, 2.18), (-67.38, 2.19), (-67.07, 2.18),
    (-66.72, 2.16), (-66.37, 2.15), (-66.0, 2.14), (-65.55, 2.13), (-67.78, 2.07), (-67.42, 2.09), (-67.08, 2.09),
    (-66.73, 2.06), (-66.38, 2.05), (-66.0, 2.03), (-65.6, 2.05), (-67.72, 1.97), (-67.38, 1.99), (-67.03, 1.97),
    (-66.72, 1.95), (-66.33, 1.94), (-65.93, 1.93), (-65.5, 1.92), (-67.78, 1.87), (-67.42, 1.88), (-67.08, 1.88),
    (-66.72, 1.85), (-66.38, 1.84), (-66.0, 1.83), (-65.55, 1.81), (-67.72, 1.77), (-67.38, 1.79), (-67.03, 1.78),
    (-66.72, 1.75), (-66.33, 1.73), (-65.97, 1.73), (-65.55, 1.71), (-67.78, 1.67), (-67.42, 1.69), (-67.08, 1.68),
    (-66.72, 1.65), (-66.38, 1.64), (-66.0, 1.62), (-65.6, 1.61), (-67.72, 1.57), (-67.38, 1.59), (-67.03, 1.57),
    (-66.72, 1.55), (-66.33, 1.54), (-65.93, 1.52), (-65.5, 1.5), (-67.78, 1.47), (-67.42, 1.49), (-67.08, 1.47),
    (-66.72, 1.45), (-66.38, 1.44), (-65.97, 1.42), (-65.5, 1.4), (-67.65, 1.37), (-67.18, 1.37), (-66.8, 1.35),
    (-66.42, 1.33), (-66.0, 1.3), (-65.55, 1.28), (-67.53, 1.25), (-66.88, 1.22), (-66.45, 1.2), (-65.98, 1.18),
    (-67.92, 2.72), (-68.0, 2.48), (-68.08, 2.3), (-68.05, 2.08), (-68.07, 1.87), (-68.1, 1.7), (-68.05, 1.47),
    (-68.02, 1.28), (-68.12, 2.95), (-67.97, 3.27), (-67.9, 1.14), (-65.25, 2.74), (-65.05, 2.5), (-65.08, 2.18),
    (-65.05, 1.82), (-65.1, 1.7), (-64.98, 2.03), (-64.8, 2.2), (-64.6, 1.72),
    (-65.12, 2.4), (-64.9, 2.55), (-64.72, 2.32), (-64.62, 2.05), (-64.85, 1.88), (-64.88, 1.7), (-65.22, 1.5),
    (-64.72, 1.6), (-65.05, 1.3), (-65.2, 1.2), (-64.55, 2.77), (-64.95, 2.72), (-65.35, 2.55), (-63.97, 2.6),
    (-63.83, 2.1), (-64.08, 1.92), (-63.98, 1.68), (-63.72, 1.48), (-63.45, 2.42), (-63.6, 2.55), (-63.85, 2.52),
    (-64.1, 2.75), (-65.42, 3.18), (-64.98, 3.15), (-65.72, 3.02), (-66.0, 3.33), (-66.85, 3.33), (-67.45, 3.3),
    (-68.35, 2.9), (-68.05, 3.08), (-68.85, 3.0), (-69.65, 3.02), (-70.0, 3.18), (-70.6, 3.05), (-71.32, 3.12),
    (-71.7, 3.05), (-72.1, 3.08), (-72.1, 3.2), (-70.72, 3.2), (-69.6, 3.2), (-69.25, 3.25), (-70.2, 3.02),
]

burst = (burst_top + burst_sides + burst_upper_mid + burst_left_core + burst_left_fill
         + burst_mid + burst_right_core + burst_right_fill)

series = [overrule, contentious, no_burst, burst]

plt.rcParams["font.family"] = "DejaVu Sans"
plt.rcParams["axes.unicode_minus"] = False
tekst = "#262626"

fig = plt.figure(figsize=(12, 9), dpi=100)
ax = fig.add_axes([102 / 1200, 100 / 900, 610 / 1200, 733 / 900])

handles = []
for tocke, barva, oznaka in zip(series, colours, legend_labels):
    tab = np.array(tocke)
    h, = ax.plot(tab[:, 0], tab[:, 1], "o", mfc="none", mec=barva, ms=9.0, mew=1.7,
                 label=oznaka)
    handles.append(h)

ax.set_xlim(-80, -55)
ax.set_ylim(0, 6)
ax.set_xticks(x_ticks)
ax.set_yticks(y_ticks)
ax.tick_params(direction="in", top=True, right=True, length=7, width=1,
               labelsize=15, colors=tekst)
ax.tick_params(axis="x", pad=9)
ax.tick_params(axis="y", pad=7)
for rob in ax.spines.values():
    rob.set_color(tekst)
    rob.set_linewidth(1)

ax.set_xlabel("Actual Vhold (mV)", fontsize=16.5, color=tekst, labelpad=6)
ax.set_ylabel("LTS maximum slope amplitude (V/s)", fontsize=16.6, color=tekst, labelpad=6)
ax.set_title("Correlation of LTS maximum slope amplitude (V/s) vs. Actual Vhold (mV) (for fitting)",
             fontsize=16.55, fontweight="bold", color="black", pad=9)

fig.text(774 / 1200, 1 - 104 / 900, "Correlation coefficient: 0.0309", fontsize=15,
         color="black", va="center", ha="left")

fig.legend(handles=handles, loc="upper left",
           bbox_to_anchor=(751 / 1200, 1 - 378 / 900),
           borderaxespad=0, fontsize=13.6, fancybox=False, framealpha=1,
           edgecolor=tekst, labelcolor="black", handlelength=3.86, handletextpad=0.08,
           borderpad=0.4, labelspacing=0.36)

fig.savefig("out.png", dpi=100)
